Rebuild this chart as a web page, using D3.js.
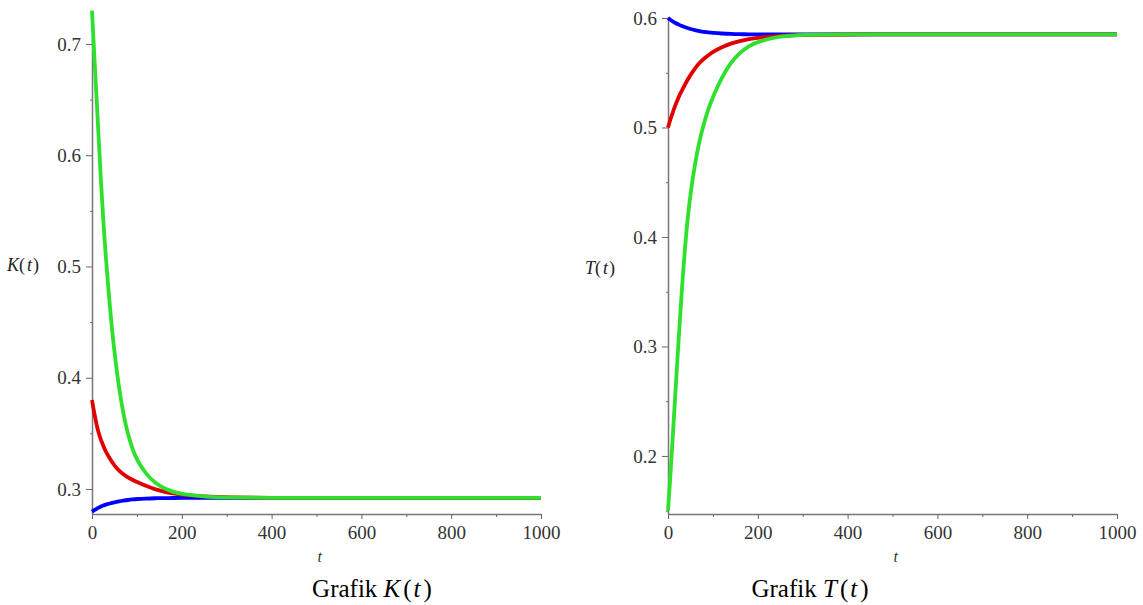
<!DOCTYPE html>
<html>
<head>
<meta charset="utf-8">
<script src="https://cdn.jsdelivr.net/npm/d3@7"></script>
<style>
  body { margin: 0; background: #fff; }
  svg { display: block; }
</style>
</head>
<body>
<svg id="chart" width="1143" height="605"></svg>
<script>
// time grid shared by all curves
const tGrid = [0, 5, 10, 15, 20, 25, 30, 40, 50, 60, 70, 80, 90, 100, 120, 140, 160, 180, 200, 250, 300, 400, 500, 600, 700, 800, 900, 1000];

// K(t) values
const kBlue  = [0.2796, 0.281, 0.2822, 0.2833, 0.2843, 0.2851, 0.2858, 0.287, 0.288, 0.2888, 0.2895, 0.2901, 0.2906, 0.291, 0.2914, 0.2917, 0.2918, 0.2919, 0.292, 0.292, 0.292, 0.292, 0.292, 0.292, 0.292, 0.292, 0.292, 0.292];
const kRed   = [0.38, 0.368, 0.358, 0.35, 0.344, 0.339, 0.334, 0.327, 0.321, 0.3165, 0.313, 0.3103, 0.3082, 0.3063, 0.3027, 0.2997, 0.2975, 0.296, 0.2948, 0.2932, 0.2924, 0.292, 0.292, 0.292, 0.292, 0.292, 0.292, 0.292];
const kGreen = [0.73, 0.69, 0.653, 0.614, 0.576, 0.542, 0.512, 0.462, 0.422, 0.391, 0.367, 0.349, 0.336, 0.326, 0.3135, 0.3055, 0.3005, 0.2975, 0.2955, 0.2932, 0.2923, 0.292, 0.292, 0.292, 0.292, 0.292, 0.292, 0.292];

// T(t) values
const tBlue  = [0.6, 0.5984, 0.597, 0.5958, 0.5947, 0.5937, 0.5928, 0.5912, 0.5899, 0.5889, 0.5881, 0.5874, 0.5868, 0.5864, 0.5858, 0.5854, 0.5852, 0.5851, 0.585, 0.585, 0.585, 0.585, 0.585, 0.585, 0.585, 0.585, 0.585, 0.585];
const tRed   = [0.5, 0.507, 0.513, 0.519, 0.524, 0.529, 0.533, 0.541, 0.548, 0.554, 0.559, 0.563, 0.566, 0.569, 0.5735, 0.5767, 0.579, 0.5808, 0.582, 0.5838, 0.5846, 0.585, 0.585, 0.585, 0.585, 0.585, 0.585, 0.585];
const tGreen = [0.15, 0.18, 0.213, 0.248, 0.282, 0.315, 0.347, 0.403, 0.44, 0.467, 0.488, 0.504, 0.517, 0.528, 0.546, 0.5595, 0.5685, 0.5745, 0.5785, 0.5835, 0.5848, 0.585, 0.585, 0.585, 0.585, 0.585, 0.585, 0.585];

const xTicks = [0, 200, 400, 600, 800, 1000];
const kTicks = [0.3, 0.4, 0.5, 0.6, 0.7];
const tTicks = [0.2, 0.3, 0.4, 0.5, 0.6];

const colors = ["#0000ff", "#e00000", "#2fe02f"];
const serif = "Liberation Serif, DejaVu Serif, serif";

const svg = d3.select("#chart");

function styleTicks(s) {
  s.selectAll(".tick line").attr("stroke", "#666");
  s.selectAll(".tick text")
    .attr("font-family", serif)
    .attr("font-size", 19)
    .attr("fill", "#333");
}

function drawPanel(opts) {
  const x = d3.scaleLinear().domain([0, 1000]).range([opts.left, opts.right]);
  const y = d3.scaleLinear().domain(opts.yDomain).range([opts.bottom, opts.top]);
  const g = svg.append("g");

  // minor ticks
  g.append("g")
    .attr("transform", `translate(0,${opts.bottom})`)
    .call(d3.axisBottom(x).tickValues(d3.range(100, 1000, 200)).tickSize(3).tickFormat(""))
    .call(s => s.select(".domain").remove())
    .call(styleTicks);
  g.append("g")
    .attr("transform", `translate(${opts.left},0)`)
    .call(d3.axisLeft(y).tickValues(opts.minor).tickSize(2).tickFormat(""))
    .call(s => s.select(".domain").remove())
    .call(styleTicks);

  // main axes
  g.append("g")
    .attr("transform", `translate(0,${opts.bottom})`)
    .call(d3.axisBottom(x).tickValues(xTicks).tickSize(5).tickPadding(7).tickSizeOuter(0).tickFormat(d3.format("d")))
    .call(s => s.select(".domain").attr("stroke", "#777").attr("stroke-width", 1.5))
    .call(styleTicks);
  g.append("g")
    .attr("transform", `translate(${opts.left},0)`)
    .call(d3.axisLeft(y).tickValues(opts.ticks).tickSize(6).tickPadding(5).tickSizeOuter(0).tickFormat(d3.format(".1f")))
    .call(s => s.select(".domain").attr("stroke", "#777").attr("stroke-width", 1.5))
    .call(styleTicks);

  // curves
  const line = d3.line()
    .x((d, i) => x(tGrid[i]))
    .y(d => y(d))
    .curve(d3.curveBasis);
  opts.series.forEach((vals, i) => {
    g.append("path")
      .attr("d", line(vals))
      .attr("fill", "none")
      .attr("stroke", colors[i])
      .attr("stroke-width", 3.8);
  });

  // axis labels
  const ylab = g.append("text")
    .attr("x", opts.yLabelX).attr("y", opts.yLabelY)
    .attr("font-family", serif)
    .attr("font-size", 18).attr("fill", "#222");
  ylab.append("tspan").attr("font-style", "italic").text(opts.name);
  ylab.append("tspan").text("(");
  ylab.append("tspan").attr("font-style", "italic").attr("dx", 2).text("t");
  ylab.append("tspan").attr("dx", 1).text(")");

  g.append("text")
    .attr("x", (opts.left + opts.right) / 2 + 1).attr("y", 562)
    .attr("font-family", serif).attr("font-style", "italic")
    .attr("font-size", 16).attr("fill", "#333")
    .text("t");

  // caption
  const cap = g.append("text")
    .attr("x", opts.capX).attr("y", 597)
    .attr("text-anchor", "middle")
    .attr("font-family", serif)
    .attr("font-size", 25).attr("fill", "#000");
  cap.append("tspan").text("Grafik ");
  cap.append("tspan").attr("font-style", "italic").text(opts.name);
  cap.append("tspan").attr("dx", 3).text("(");
  cap.append("tspan").attr("font-style", "italic").attr("dx", 2).text("t");
  cap.append("tspan").attr("dx", 3).text(")");
}

drawPanel({
  name: "K", left: 92, right: 541, top: 10.6, bottom: 514,
  yDomain: [0.2775, 0.73], ticks: kTicks,
  minor: [0.35, 0.45, 0.55, 0.65],
  series: [kBlue, kRed, kGreen],
  yLabelX: 7, yLabelY: 271, capX: 372
});

drawPanel({
  name: "T", left: 668, right: 1117, top: 16.9, bottom: 514,
  yDomain: [0.147, 0.601], ticks: tTicks,
  minor: [0.15, 0.25, 0.35, 0.45, 0.55],
  series: [tBlue, tRed, tGreen],
  yLabelX: 585, yLabelY: 274, capX: 810
});
</script>
</body>
</html>
